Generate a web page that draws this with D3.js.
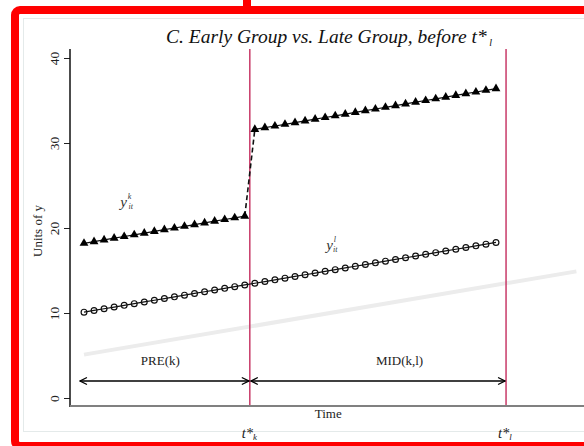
<!DOCTYPE html>
<html>
<head>
<meta charset="utf-8">
<script src="https://cdn.jsdelivr.net/npm/d3@7"></script>
<style>
  body { margin: 0; background: #fff; }
  svg text, svg tspan { font-family: "Liberation Serif", "Times New Roman", Times, serif; }
</style>
</head>
<body>
<svg id="chart"></svg>
<script>
// data
let time = [1, 2, 3, 4, 5, 6, 7, 8, 9, 10, 11, 12, 13, 14, 15, 16, 17, 18, 19, 20, 21,
            22, 23, 24, 25, 26, 27, 28, 29, 30, 31, 32, 33, 34, 35, 36, 37, 38, 39, 40, 41, 42];
// early group (k), jumps after t*k
let yEarly = [18.2, 18.4, 18.6, 18.8, 19.0, 19.2, 19.4, 19.6, 19.8, 20.0, 20.2, 20.4, 20.6, 20.8, 21.0, 21.2, 21.4,
              31.6, 31.8, 32.0, 32.2, 32.4, 32.6, 32.8, 33.0, 33.2, 33.4, 33.6, 33.8, 34.0, 34.2, 34.4, 34.6,
              34.8, 35.0, 35.2, 35.4, 35.6, 35.8, 36.0, 36.2, 36.4];
// late group (l)
let yLate = [10.1, 10.3, 10.5, 10.7, 10.9, 11.1, 11.3, 11.5, 11.7, 11.9, 12.1, 12.3, 12.5, 12.7, 12.9, 13.1, 13.3,
             13.5, 13.7, 13.9, 14.1, 14.3, 14.5, 14.7, 14.9, 15.1, 15.3, 15.5, 15.7, 15.9, 16.1, 16.3, 16.5,
             16.7, 16.9, 17.1, 17.3, 17.5, 17.7, 17.9, 18.1, 18.3];
// faint grey trend
let trendTime = [1, 50];
let trendVals = [5.1, 14.9];
// event times
let eventTimes = [17.5, 43];
let eventLabels = ['k', 'l'];
// period arrows
let periodStart = [0.5, 17.5];
let periodEnd = [17.5, 43];
let periodNames = ['PRE(k)', 'MID(k,l)'];
let periodLabelAt = [8.6, 32.4];
let yTicks = [0, 10, 20, 30, 40];
let jumpIndex = 16; // last point before the jump

let widthSVG = 584;
let heightSVG = 446;

let svg = d3.select('svg#chart')
            .attr('width', widthSVG)
            .attr('height', heightSVG);

// scales
let x = d3.scaleLinear().domain([1, 42]).range([84, 496]);
let y = d3.scaleLinear().domain([0, 40]).range([398, 58]);

let plotTop = 49;
let plotBottom = 406;
let plotLeft = 70;

// light graph region border
svg.append('rect')
   .attr('x', 23.5).attr('y', 18.5)
   .attr('width', 600).attr('height', 413)
   .style('fill', 'none')
   .style('stroke', '#e4eaea')
   .style('stroke-width', 1);

// title
let title = svg.append('text')
   .attr('x', 329)
   .attr('y', 43)
   .style('text-anchor', 'middle')
   .style('font-style', 'italic')
   .style('font-size', '19.5px')
   .style('fill', '#111');
title.append('tspan').text('C. Early Group vs. Late Group, before t*');
title.append('tspan').text(' l').attr('dy', 3).style('font-size', '10px');

// grey trend line
svg.append('path')
   .datum(trendTime.map((t, i) => [t, trendVals[i]]))
   .attr('d', d3.line().x(d => x(d[0])).y(d => y(d[1])))
   .style('fill', 'none')
   .style('stroke', '#ececec')
   .style('stroke-width', 4);

// event lines
svg.selectAll('line.event')
   .data(eventTimes)
   .enter()
   .append('line')
   .classed('event', true)
   .attr('x1', d => x(d)).attr('x2', d => x(d))
   .attr('y1', plotTop).attr('y2', plotBottom)
   .style('stroke', '#c83a68')
   .style('stroke-width', 1.5);

// y axis
let yAxis = d3.axisLeft(y).tickValues(yTicks).tickSize(6).tickSizeOuter(0);
let yAxisG = svg.append('g')
   .attr('transform', `translate(${plotLeft}, 0)`)
   .call(yAxis);
yAxisG.select('.domain').remove();
yAxisG.selectAll('.tick line').style('stroke', '#222');
yAxisG.selectAll('.tick text')
   .attr('x', 0).attr('y', 0).attr('dy', 0)
   .attr('transform', 'translate(-11, 0) rotate(-90)')
   .style('text-anchor', 'middle')
   .style('font-size', '13.5px')
   .style('font-family', '"Liberation Serif", serif')
   .style('fill', '#222');

svg.append('line')
   .attr('x1', plotLeft).attr('x2', plotLeft)
   .attr('y1', plotTop).attr('y2', plotBottom + 1)
   .style('stroke', '#111')
   .style('stroke-width', 1.5);

// x axis line
svg.append('line')
   .attr('x1', plotLeft).attr('x2', widthSVG)
   .attr('y1', plotBottom).attr('y2', plotBottom)
   .style('stroke', '#808080')
   .style('stroke-width', 2);

svg.append('text')
   .text('Units of y')
   .attr('transform', 'translate(42, 231) rotate(-90)')
   .style('text-anchor', 'middle')
   .style('font-size', '13px')
   .style('fill', '#222');

svg.append('text')
   .text('Time')
   .attr('x', x(25.3))
   .attr('y', 418)
   .style('text-anchor', 'middle')
   .style('font-size', '13px')
   .style('fill', '#222');

// event labels under the axis
let evLab = svg.selectAll('text.evLab')
   .data(eventTimes)
   .enter()
   .append('text')
   .classed('evLab', true)
   .attr('x', d => x(d) - 8)
   .attr('y', 438)
   .style('font-style', 'italic')
   .style('font-size', '14.5px')
   .style('fill', '#222');
evLab.append('tspan').text('t*');
evLab.append('tspan').text((d, i) => eventLabels[i]).attr('dy', 1.5).style('font-size', '9px');

// late group: line with hollow circles
let late = time.map((t, i) => [t, yLate[i]]);
svg.append('path')
   .datum(late)
   .attr('d', d3.line().x(d => x(d[0])).y(d => y(d[1])))
   .style('fill', 'none')
   .style('stroke', '#111')
   .style('stroke-width', 1.2);
svg.selectAll('circle.late')
   .data(late)
   .enter()
   .append('circle')
   .classed('late', true)
   .attr('cx', d => x(d[0]))
   .attr('cy', d => y(d[1]))
   .attr('r', 2.9)
   .style('fill', 'none')
   .style('stroke', '#111')
   .style('stroke-width', 1.2);

// early group: solid segments plus a dashed jump
let early = time.map((t, i) => [t, yEarly[i]]);
let earlyLine = d3.line().x(d => x(d[0])).y(d => y(d[1]));
svg.selectAll('path.early')
   .data([early.slice(0, jumpIndex + 1), early.slice(jumpIndex + 1)])
   .enter()
   .append('path')
   .classed('early', true)
   .attr('d', earlyLine)
   .style('fill', 'none')
   .style('stroke', '#111')
   .style('stroke-width', 1.2);
svg.append('path')
   .datum(early.slice(jumpIndex, jumpIndex + 2))
   .attr('d', earlyLine)
   .style('fill', 'none')
   .style('stroke', '#111')
   .style('stroke-width', 1.6)
   .style('stroke-dasharray', '5,3');
svg.selectAll('path.tri')
   .data(early)
   .enter()
   .append('path')
   .classed('tri', true)
   .attr('d', d3.symbol().type(d3.symbolTriangle).size(34))
   .attr('transform', d => `translate(${x(d[0])}, ${y(d[1])})`)
   .style('fill', '#000');

// series labels
function seriesLabel(t, v, sup) {
  let g = svg.append('text')
     .attr('x', x(t))
     .attr('y', y(v))
     .style('fill', '#333')
     .style('font-style', 'italic')
     .style('font-size', '15px');
  g.append('tspan').text('y');
  g.append('tspan').text(sup).attr('dx', 1).attr('dy', -8).style('font-size', '8px');
  g.append('tspan').text('it').attr('dx', -3).attr('dy', 10).style('font-size', '8px');
}
seriesLabel(4.6, 22.5, 'k');
seriesLabel(25.1, 17.4, 'l');

// period arrows
let defs = svg.append('defs');
defs.append('marker')
    .attr('id', 'head')
    .attr('viewBox', '-9 -5 10 10')
    .attr('refX', 0).attr('refY', 0)
    .attr('markerWidth', 10).attr('markerHeight', 10)
    .attr('markerUnits', 'userSpaceOnUse')
    .attr('orient', 'auto-start-reverse')
    .append('path')
    .attr('d', 'M-7,-3.5 L0,0 L-7,3.5')
    .style('fill', 'none')
    .style('stroke', '#000')
    .style('stroke-width', 1.3);

svg.selectAll('line.period')
   .data(periodStart)
   .enter()
   .append('line')
   .classed('period', true)
   .attr('x1', d => x(d) + 1)
   .attr('x2', (d, i) => x(periodEnd[i]) - 1)
   .attr('y1', y(2)).attr('y2', y(2))
   .attr('marker-start', 'url(#head)')
   .attr('marker-end', 'url(#head)')
   .style('stroke', '#000')
   .style('stroke-width', 1.3);

svg.selectAll('text.period')
   .data(periodNames)
   .enter()
   .append('text')
   .classed('period', true)
   .text(d => d)
   .attr('x', (d, i) => x(periodLabelAt[i]))
   .attr('y', 365)
   .style('text-anchor', 'middle')
   .style('font-size', '13px')
   .style('fill', '#222');

// red annotation frame
svg.append('rect')
   .attr('x', 15).attr('y', 10)
   .attr('width', 620).attr('height', 436)
   .attr('rx', 5)
   .style('fill', 'none')
   .style('stroke', '#ff0000')
   .style('stroke-width', 8);
svg.append('rect')
   .attr('x', 243).attr('y', 0)
   .attr('width', 8).attr('height', 10)
   .style('fill', '#ff0000');
</script>
</body>
</html>
